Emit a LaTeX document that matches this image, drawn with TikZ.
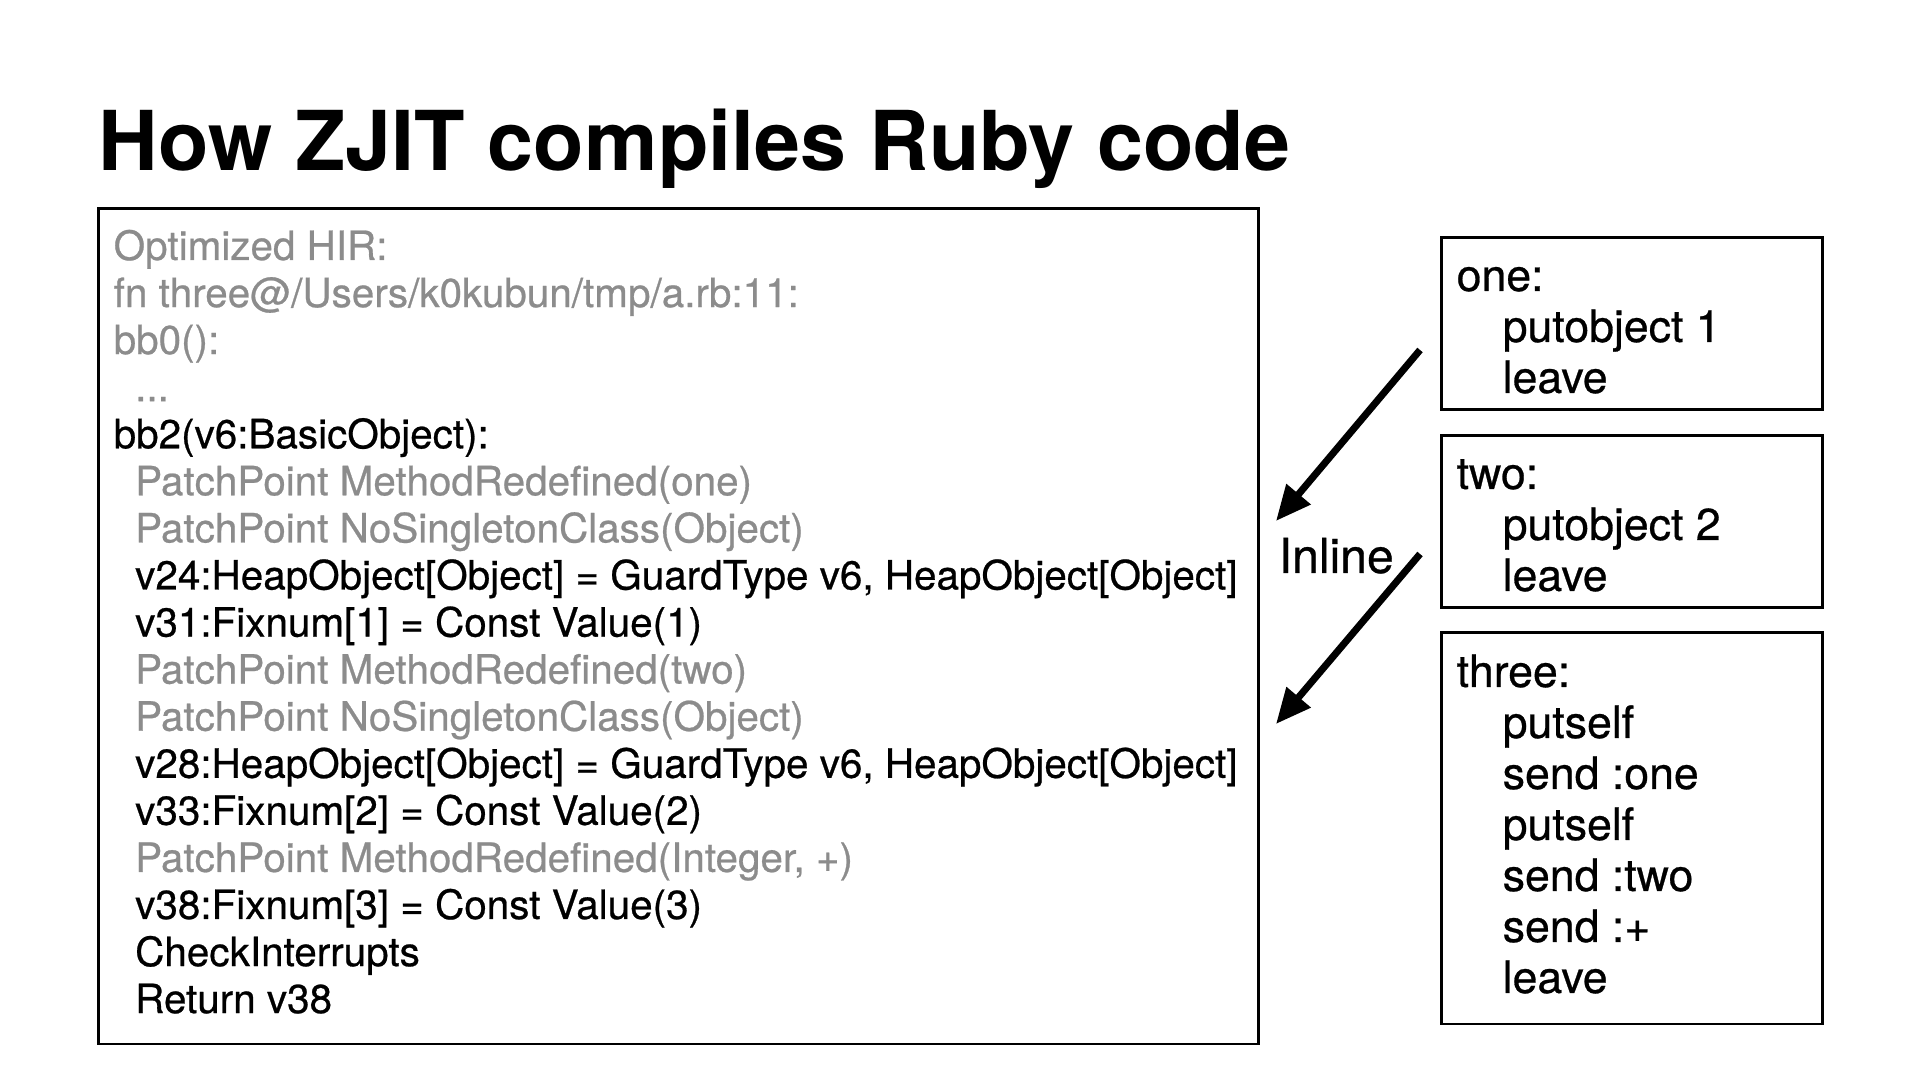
\documentclass[tikz,border=0pt]{standalone}
\usepackage{fontspec}
\setmainfont{TeX Gyre Heros}[UprightFeatures={FakeBold=0.6}]
\usetikzlibrary{arrows.meta}
\definecolor{hirgray}{HTML}{8C8C8C}

\begin{document}
\begin{tikzpicture}[
  codebox/.style={rectangle, draw=black, line width=0.85pt, inner sep=0pt},
  hirline/.style={anchor=base west, inner sep=0pt, font=\fontsize{11.5}{13.5}\selectfont},
  hirgrey/.style={hirline, text=hirgray},
  insnline/.style={anchor=base west, inner sep=0pt, font=\fontsize{12.7}{14.5}\selectfont},
  inlinearrow/.style={line width=2pt, -{Triangle[length=10pt, width=8.6pt]}}
]
\useasboundingbox (0,0) rectangle (19.2,10.8);

% title
\node[anchor=base west, inner sep=0pt, font=\fontsize{23.5}{28}\selectfont\bfseries] (title) at (0.98,9.09) {How ZJIT compiles Ruby code};

% optimized HIR
\node[codebox, minimum width=11.60cm, minimum height=8.35cm] (hir) at (6.785,4.535) {};
\node[hirgrey] (hirhead) at (1.13,8.200) {Optimized HIR:};
\node[hirgrey] (hirfn) at (1.13,7.729) {fn three@/Users/k0kubun/tmp/a.rb:11:};
\node[hirgrey] (bbzero) at (1.13,7.259) {bb0():};
\node[hirgrey] (dots) at (1.345,6.788) {...};
\node[hirline] (bbtwo) at (1.13,6.317) {bb2(v6:BasicObject):};
\node[hirgrey] (ppone) at (1.345,5.847) {PatchPoint MethodRedefined(one)};
\node[hirgrey] (nsone) at (1.345,5.376) {PatchPoint NoSingletonClass(Object)};
\node[hirline] (vtwentyfour) at (1.345,4.905) {v24:HeapObject[Object] = GuardType v6, HeapObject[Object]};
\node[hirline] (vthirtyone) at (1.345,4.434) {v31:Fixnum[1] = Const Value(1)};
\node[hirgrey] (pptwo) at (1.345,3.964) {PatchPoint MethodRedefined(two)};
\node[hirgrey] (nstwo) at (1.345,3.493) {PatchPoint NoSingletonClass(Object)};
\node[hirline] (vtwentyeight) at (1.345,3.022) {v28:HeapObject[Object] = GuardType v6, HeapObject[Object]};
\node[hirline] (vthirtythree) at (1.345,2.552) {v33:Fixnum[2] = Const Value(2)};
\node[hirgrey] (ppplus) at (1.345,2.081) {PatchPoint MethodRedefined(Integer, +)};
\node[hirline] (vthirtyeight) at (1.345,1.610) {v38:Fixnum[3] = Const Value(3)};
\node[hirline] (checkint) at (1.345,1.139) {CheckInterrupts};
\node[hirline] (retline) at (1.345,0.669) {Return v38};

% YARV instructions
\node[codebox, minimum width=3.81cm, minimum height=1.72cm] (one) at (16.315,7.56) {};
\node[insnline] (onelbl) at (14.56,7.89) {one:};
\node[insnline] (oneput) at (15.02,7.38) {putobject 1};
\node[insnline] (oneleave) at (15.02,6.87) {leave};

\node[codebox, minimum width=3.81cm, minimum height=1.72cm] (two) at (16.315,5.58) {};
\node[insnline] (twolbl) at (14.56,5.91) {two:};
\node[insnline] (twoput) at (15.02,5.40) {putobject 2};
\node[insnline] (twoleave) at (15.02,4.89) {leave};

\node[codebox, minimum width=3.81cm, minimum height=3.91cm] (three) at (16.315,2.515) {};
\node[insnline] (threelbl) at (14.56,3.93) {three:};
\node[insnline] (selfone) at (15.02,3.42) {putself};
\node[insnline] (sendone) at (15.02,2.91) {send :one};
\node[insnline] (selftwo) at (15.02,2.40) {putself};
\node[insnline] (sendtwo) at (15.02,1.89) {send :two};
\node[insnline] (sendplus) at (15.02,1.38) {send :+};
\node[insnline] (threeleave) at (15.02,0.87) {leave};

% inlining arrows
\coordinate (fromone) at (14.20,7.30);
\coordinate (toone) at (12.76,5.59);
\coordinate (fromtwo) at (14.20,5.26);
\coordinate (totwo) at (12.76,3.56);
\draw[inlinearrow] (fromone) -- (toone);
\draw[inlinearrow] (fromtwo) -- (totwo);
\node[anchor=base west, inner sep=0pt, font=\fontsize{13.7}{16}\selectfont] (inline) at (12.78,5.07) {Inline};
\end{tikzpicture}
\end{document}
